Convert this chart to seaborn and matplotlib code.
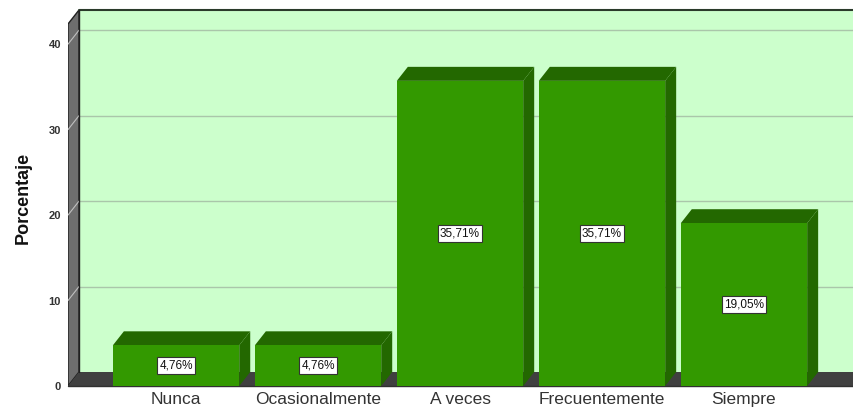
import matplotlib
matplotlib.use("Agg")
import matplotlib.pyplot as plt
from matplotlib.patches import Polygon
import seaborn as sns
import pandas as pd

categories = ["Nunca", "Ocasionalmente", "A veces", "Frecuentemente", "Siempre"]
values = [4.76, 4.76, 35.71, 35.71, 19.05]
labels = ["4,76%", "4,76%", "35,71%", "35,71%", "19,05%"]
yticks = [0, 10, 20, 30, 40]

FRONT = "#339900"
SIDE = "#236800"
WALL = "#ccffcc"
GRID = "#aac6aa"
LEFTWALL = "#6e6e6e"
FLOOR = "#404040"

sns.set_theme(style="white")
plt.rcParams["font.family"] = ["Liberation Sans", "DejaVu Sans"]

W, H = 854, 412
fig = plt.figure(figsize=(W / 100, H / 100), dpi=100)
ax_l, ax_b, ax_w, ax_h = 68, 26, 854 - 68, 386 - 10
ax = fig.add_axes([ax_l / W, ax_b / H, ax_w / W, ax_h / H])
ax.set_facecolor("none")

df = pd.DataFrame({"cat": categories, "val": values})
sns.barplot(data=df, x="cat", y="val", color=FRONT, width=0.89, saturation=1,
            edgecolor="none", linewidth=0, ax=ax, zorder=5)

x0, x1 = -0.761, 4.775
y0, y1 = 0, 44
ax.set_xlim(x0, x1)
ax.set_ylim(y0, y1)

dx = 11 * (x1 - x0) / ax_w
dy = 14 * (y1 - y0) / ax_h

# walls
ax.add_patch(Polygon([(x0 + dx, dy), (x1, dy), (x1, y1), (x0 + dx, y1)],
                     closed=True, facecolor=WALL, edgecolor="none", zorder=0))
ax.add_patch(Polygon([(x0, 0), (x0 + dx, dy), (x0 + dx, y1), (x0, y1 - dy)],
                     closed=True, facecolor=LEFTWALL, edgecolor="#202020", lw=1, zorder=1))
ax.add_patch(Polygon([(x0, 0), (x1, 0), (x1, dy), (x0 + dx, dy)],
                     closed=True, facecolor=FLOOR, edgecolor="none", zorder=1))
for v in yticks[1:]:
    ax.plot([x0 + dx, x1], [v + dy, v + dy], color=GRID, lw=1, zorder=0.5)
    ax.plot([x0, x0 + dx], [v, v + dy], color="#c0c0c0", lw=0.8, zorder=1.5)
ax.plot([x0 + dx, x1], [y1, y1], color="#2a3a2a", lw=1.5, zorder=2, clip_on=False)
ax.plot([x0 + dx, x0 + dx], [dy, y1], color="#202020", lw=1, zorder=2)
ax.plot([x0, x1], [0, 0], color="#303030", lw=1, zorder=2, clip_on=False)

# 3D faces for bars
for p, lab in zip(ax.patches[:len(values)], labels):
    bx0 = p.get_x()
    bx1 = bx0 + p.get_width()
    h = p.get_height()
    ax.add_patch(Polygon([(bx1, 0), (bx1 + dx, dy), (bx1 + dx, h + dy), (bx1, h)],
                         closed=True, facecolor=SIDE, edgecolor="none", zorder=4))
    ax.add_patch(Polygon([(bx0, h), (bx1, h), (bx1 + dx, h + dy), (bx0 + dx, h + dy)],
                         closed=True, facecolor=SIDE, edgecolor="none", zorder=4))
    ax.text((bx0 + bx1) / 2, h / 2, lab, ha="center", va="center", fontsize=8.5,
            color="#111111", zorder=7,
            bbox=dict(boxstyle="square,pad=0.2", facecolor="white", edgecolor="#333333", lw=0.8))

for s in ax.spines.values():
    s.set_visible(False)
ax.set_yticks(yticks)
ax.set_yticklabels([str(t) for t in yticks], fontsize=8, fontweight="bold", color="#333333")
ax.tick_params(axis="y", length=0, pad=5)
ax.tick_params(axis="x", length=0, pad=4, labelsize=12.5, labelcolor="#333333")
ax.set_xlabel("")
ax.set_ylabel("Porcentaje", fontsize=13, fontweight="bold", color="#111111", labelpad=12)
ax.grid(False)

fig.savefig("out.png", dpi=100)
